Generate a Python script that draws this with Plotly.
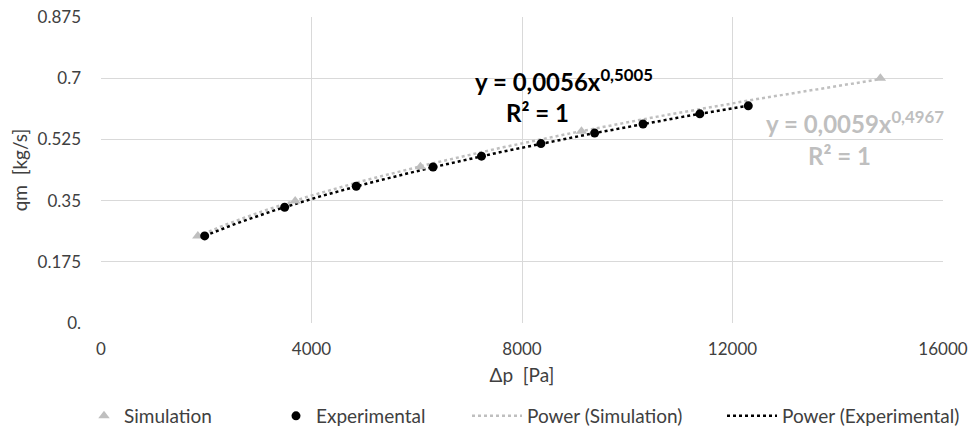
import numpy as np
import plotly.graph_objects as go

# Data
sim_dp = [1840, 3690, 6070, 9130, 14810]
sim_qm = [0.249, 0.349, 0.447, 0.548, 0.700]
exp_dp = [1970, 3490, 4850, 6310, 7230, 8360, 9380, 10300, 11380, 12300]
exp_qm = [0.249, 0.331, 0.391, 0.446, 0.477, 0.513, 0.543, 0.569, 0.598, 0.621]

x_ticks = [0, 4000, 8000, 12000, 16000]
x_ticktext = ["0", "4000", "8000", "12000", "16000"]
y_ticks = [0, 0.175, 0.35, 0.525, 0.7, 0.875]
y_ticktext = ["0.", "0.175", "0.35", "0.525", "0.7", "0.875"]

SIM_COL = "#bfbfbf"
EXP_COL = "#000000"
TXT_COL = "#404040"
FONT = "Lato, 'Open Sans', sans-serif"


def power_fit(x, y):
    b, ln_a = np.polyfit(np.log(x), np.log(y), 1)
    xs = np.linspace(min(x), max(x), 200)
    return xs, np.exp(ln_a) * xs ** b


sx, sy = power_fit(sim_dp, sim_qm)
ex, ey = power_fit(exp_dp, exp_qm)

fig = go.Figure()
fig.add_trace(go.Scatter(x=sx, y=sy, mode="lines", name="Power (Simulation)", legend="legend3",
                         line=dict(color=SIM_COL, width=2.5, dash="dot")))
fig.add_trace(go.Scatter(x=ex, y=ey, mode="lines", name="Power (Experimental)", legend="legend4",
                         line=dict(color=EXP_COL, width=2.5, dash="dot")))
fig.add_trace(go.Scatter(x=sim_dp, y=sim_qm, mode="markers", name="Simulation", legend="legend",
                         showlegend=True,
                         marker=dict(symbol="triangle-up", size=10, color=SIM_COL)))
fig.add_trace(go.Scatter(x=exp_dp, y=exp_qm, mode="markers", name="Experimental", legend="legend2",
                         marker=dict(symbol="circle", size=9, color=EXP_COL)))

ann_font_black = dict(family=FONT, size=24, color="#000000")
ann_font_gray = dict(family=FONT, size=24, color=SIM_COL)
fig.add_annotation(x=8800, y=0.694, xref="x", yref="y", yanchor="middle",
                   text="<b>y = 0,0056x<sup>0,5005</sup></b>", showarrow=False, font=ann_font_black)
fig.add_annotation(x=8285, y=0.603, xref="x", yref="y", yanchor="middle",
                   text="<b>R² = 1</b>", showarrow=False, font=ann_font_black)
fig.add_annotation(x=14330, y=0.574, xref="x", yref="y", yanchor="middle",
                   text="<b>y = 0,0059x<sup>0,4967</sup></b>", showarrow=False, font=ann_font_gray)
fig.add_annotation(x=14040, y=0.478, xref="x", yref="y", yanchor="middle",
                   text="<b>R² = 1</b>", showarrow=False, font=ann_font_gray)

PW = 842.0  # plot width in px
leg_common = dict(orientation="h", yref="container", y=16 / 432, yanchor="middle", xanchor="left",
                  font=dict(family=FONT, size=19, color=TXT_COL), bgcolor="rgba(0,0,0,0)")

fig.update_layout(
    width=975, height=432,
    showlegend=True,
    margin=dict(l=101, r=32, t=17, b=109),
    paper_bgcolor="white", plot_bgcolor="white",
    font=dict(family=FONT, size=17, color=TXT_COL),
    legend=dict(x=(84 - 101) / PW, itemwidth=30, **leg_common),
    legend2=dict(x=(276 - 101) / PW, itemwidth=30, **leg_common),
    legend3=dict(x=(467 - 101) / PW, itemwidth=50, **leg_common),
    legend4=dict(x=(722 - 101) / PW, itemwidth=50, **leg_common),
    xaxis=dict(range=[0, 16000], tickvals=x_ticks, ticktext=x_ticktext, showgrid=True,
               gridcolor="#d9d9d9", gridwidth=1.3, zeroline=False, showline=False, ticks="",
               ticklabelstandoff=14, automargin=False,
               title=dict(text="Δp  [Pa]", standoff=10, font=dict(size=19, color=TXT_COL)),
               tickfont=dict(size=17, color=TXT_COL)),
    yaxis=dict(range=[0, 0.875], tickvals=y_ticks, ticktext=y_ticktext, showgrid=True,
               gridcolor="#d9d9d9", gridwidth=1.3, zeroline=False, showline=False, ticks="",
               ticklabelstandoff=19, automargin=False,
               title=dict(text="qm  [kg/s]", standoff=4, font=dict(size=19, color=TXT_COL)),
               tickfont=dict(size=17, color=TXT_COL)),
)

fig.write_html("out.html")
